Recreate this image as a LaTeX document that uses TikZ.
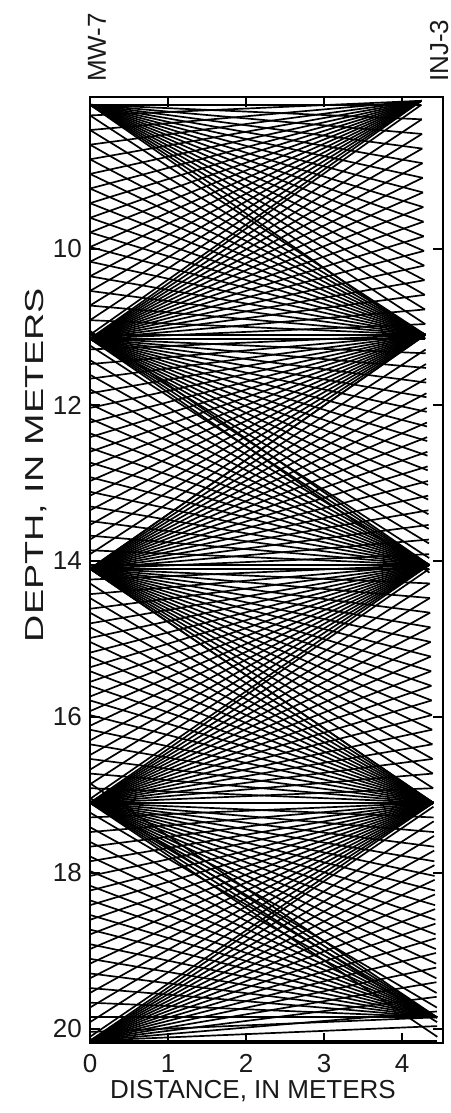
\documentclass[tikz,border=0pt]{standalone}
\usepackage{fontspec}
\setmainfont{Liberation Sans}
\begin{document}
\begin{tikzpicture}[x=1.95cm,y=-1.95cm]
\tikzset{
  ray/.style={line width=1.2pt},
  frame/.style={line width=1.6pt},
  tickmark/.style={line width=1pt},
  lab/.style={font=\fontsize{18.5}{22}\selectfont, inner sep=0pt, text=black!90}
}
\useasboundingbox (-1.1538,6.8077) rectangle (4.6154,21.077);
\begin{scope}
\clip (0,8.05) rectangle (4.525,20.18);
% fans from left-hole sources to right-hole receivers
\foreach \a in {8.15,11.15,14.1,17.1,20.15}{
  \foreach \i in {-16,...,16}{
    \pgfmathsetmacro\d{\a+\i*0.1875}
    \pgfmathtruncatemacro\ok{((\d>8.05)&&(\d<20.2))?1:0}
    \ifnum\ok=1
      \pgfmathsetmacro\xx{4.25+0.017*(\d-8.15)}
      \draw[ray] (0,\a) -- (\xx,\d);
    \fi
  }
}
% fans from right-hole sources to left-hole receivers
\foreach \a in {8.1,11.1,14.05,17.1,19.85}{
  \pgfmathsetmacro\xa{4.25+0.017*(\a-8.15)}
  \foreach \i in {-16,...,16}{
    \pgfmathsetmacro\d{\a+\i*0.1875}
    \pgfmathtruncatemacro\ok{((\d>8.1)&&(\d<20.2))?1:0}
    \ifnum\ok=1
      \draw[ray] (\xa,\a) -- (0,\d);
    \fi
  }
}
\end{scope}
% frame
\draw[frame] (0,8.05) rectangle (4.525,20.18);
\foreach \x in {1,2,3,4}{
  \draw[tickmark] (\x,8.05) -- (\x,8.18);
  \draw[tickmark] (\x,20.18) -- (\x,20.05);
  \node[lab] (xl\x) at (\x,20.44) {\x};
}
\node[lab] (xl0) at (0,20.44) {0};
\foreach \d in {10,12,14,16,18,20}{
  \draw[tickmark] (0,\d) -- (0.13,\d);
  \draw[tickmark] (4.525,\d) -- (4.395,\d);
  \node[lab, anchor=east] (yl\d) at (-0.1,\d) {\d};
}
\node[lab] (xtitle) at (2.09,20.795) {DISTANCE, IN METERS};
\node[lab, rotate=90] (ytitle) at (-0.69,12.77) {\scalebox{1.45}[1]{DEPTH, IN METERS}};
\node[lab, rotate=90, anchor=base west] (mw) at (0.205,7.86) {MW-7};
\node[lab, rotate=90, anchor=base west] (inj) at (4.59,7.86) {INJ-3};
\end{tikzpicture}
\end{document}
